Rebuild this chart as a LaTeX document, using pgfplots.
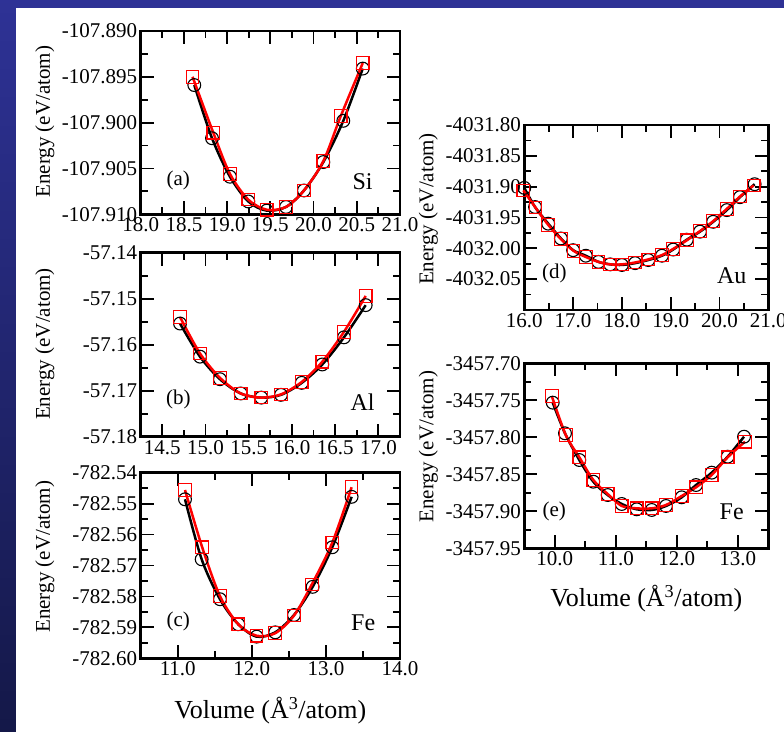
\documentclass[border=0pt]{standalone}
\usepackage{fontspec}
\setmainfont{Liberation Serif}
\usepackage{pgfplots}
\pgfplotsset{compat=1.18}
\usepackage{pgfplotstable}

\definecolor{slidetop}{RGB}{46,50,150}
\definecolor{slidebot}{RGB}{20,24,72}

% Si (a)
\pgfplotstableread{
V E
18.620 -107.8959
18.825 -107.9017
19.033 -107.9059
19.245 -107.9086
19.458 -107.9096
19.681 -107.9092
19.889 -107.9074
20.113 -107.9043
20.344 -107.8998
20.569 -107.8941
}\SiA
\pgfplotstableread{
V E
18.600 -107.8950
18.840 -107.9011
19.033 -107.9056
19.245 -107.9084
19.458 -107.9095
19.681 -107.9092
19.889 -107.9074
20.113 -107.9042
20.314 -107.8993
20.569 -107.8935
}\SiB
% Al (b)
\pgfplotstableread{
V E
14.705 -57.1554
14.936 -57.1626
15.167 -57.1675
15.407 -57.1706
15.645 -57.1715
15.873 -57.1709
16.113 -57.1683
16.351 -57.1643
16.602 -57.1584
16.853 -57.1514
}\AlA
\pgfplotstableread{
V E
14.705 -57.1540
14.936 -57.1619
15.167 -57.1672
15.407 -57.1706
15.645 -57.1715
15.873 -57.1708
16.113 -57.1681
16.351 -57.1637
16.602 -57.1572
16.853 -57.1494
}\AlB
% Fe (c)
\pgfplotstableread{
V E
11.098 -782.5486
11.323 -782.5680
11.570 -782.5809
11.817 -782.5890
12.065 -782.5930
12.316 -782.5916
12.569 -782.5860
12.821 -782.5769
13.086 -782.5641
13.347 -782.5478
}\FeA
\pgfplotstableread{
V E
11.098 -782.5456
11.330 -782.5641
11.570 -782.5799
11.817 -782.5890
12.065 -782.5927
12.316 -782.5919
12.569 -782.5862
12.810 -782.5761
13.086 -782.5626
13.347 -782.5447
}\FeB
% Au (d)
\pgfplotstableread{
V E
16.00 -4031.902
16.22 -4031.933
16.49 -4031.960
16.75 -4031.984
17.00 -4032.003
17.26 -4032.012
17.52 -4032.022
17.76 -4032.026
18.00 -4032.027
18.27 -4032.024
18.54 -4032.019
18.82 -4032.012
19.05 -4032.002
19.33 -4031.986
19.60 -4031.973
19.87 -4031.957
20.15 -4031.938
20.42 -4031.917
20.72 -4031.896
}\AuA
\pgfplotstableread{
V E
15.98 -4031.906
16.23 -4031.934
16.49 -4031.962
16.75 -4031.985
17.01 -4032.004
17.26 -4032.014
17.52 -4032.022
17.76 -4032.026
18.00 -4032.026
18.27 -4032.023
18.54 -4032.018
18.82 -4032.011
19.05 -4032.001
19.33 -4031.987
19.60 -4031.972
19.87 -4031.956
20.15 -4031.936
20.42 -4031.916
20.70 -4031.898
}\AuB
% Fe (e)
\pgfplotstableread{
V E
9.966 -3457.7532
10.167 -3457.7946
10.402 -3457.8307
10.631 -3457.8600
10.867 -3457.8780
11.097 -3457.8901
11.343 -3457.8973
11.589 -3457.8982
11.823 -3457.8928
12.080 -3457.8811
12.315 -3457.8645
12.572 -3457.8478
12.834 -3457.8262
13.102 -3457.7992
}\FeeA
\pgfplotstableread{
V E
9.950 -3457.7442
10.180 -3457.7969
10.402 -3457.8270
10.631 -3457.8577
10.867 -3457.8766
11.097 -3457.8928
11.343 -3457.8960
11.589 -3457.8960
11.823 -3457.8915
12.080 -3457.8793
12.315 -3457.8676
12.572 -3457.8509
12.834 -3457.8270
13.118 -3457.8059
}\FeeB

\pgfplotsset{
  panel/.style={
    scale only axis, clip=false,
    axis line style={line width=2.6pt},
    tick style={line width=1.8pt, black},
    major tick length=13pt, minor tick length=7pt,
    tick align=inside,
    minor x tick num=1, minor y tick num=1,
    tick label style={font=\rmfamily\fontsize{21}{25}\selectfont},
    ylabel={Energy (eV/atom)},
    ylabel style={font=\rmfamily\fontsize{21}{25}\selectfont, anchor=center},
    xlabel style={font=\rmfamily\fontsize{26}{30}\selectfont, anchor=center},
    scaled ticks=false,
    x tick label style={/pgf/number format/.cd, fixed, fixed zerofill, precision=1, assume math mode=true},
  },
  dft/.style={only marks, mark=o, mark size=6.4pt, black, mark options={line width=1.1pt}},
  mdl/.style={only marks, mark=square, mark size=6.3pt, red, mark options={line width=1.1pt}},
  fitk/.style={black, line width=2.5pt, smooth},
  fitr/.style={red, line width=2.5pt, smooth},
}
\newcommand{\lab}[3]{\node[font=\rmfamily\fontsize{21}{25}\selectfont] at (axis description cs:#1,#2) {#3};}
\newcommand{\elem}[3]{\node[font=\rmfamily\fontsize{24}{28}\selectfont] at (axis description cs:#1,#2) {#3};}

\begin{document}
\begin{tikzpicture}
\useasboundingbox (0,0) rectangle (784pt,731pt);
\shade[top color=slidetop, bottom color=slidebot] (-2pt,-2pt) rectangle (786pt,733pt);
\fill[white] (16pt,-4pt) rectangle (788pt,723pt);
\clip (0,0) rectangle (784pt,731pt);

% (a) Si
\begin{axis}[panel, at={(140.7pt,516.7pt)}, anchor=south west,
  width=259.3pt, height=183.3pt,
  xmin=18, xmax=21, xtick={18,18.5,...,21},
  ymin=-107.91, ymax=-107.89,
  ytick={-107.91,-107.905,-107.9,-107.895,-107.89},
  yticklabels={-107.910,-107.905,-107.900,-107.895,-107.890},
  ylabel style={at={(axis description cs:-0.370,0.505)}}]
  \addplot[dft] table {\SiA};
  \addplot[mdl] table {\SiB};
  \addplot[fitk] table {\SiA};
  \addplot[fitr] table {\SiB};
  \lab{0.145}{0.187}{(a)}
  \elem{0.856}{0.178}{Si}
\end{axis}

% (b) Al
\begin{axis}[panel, at={(140.7pt,294.3pt)}, anchor=south west,
  width=259.3pt, height=184pt,
  xmin=14.25, xmax=17.25, xtick={14.5,15,...,17},
  ymin=-57.18, ymax=-57.14,
  ytick={-57.18,-57.17,-57.16,-57.15,-57.14},
  yticklabels={-57.18,-57.17,-57.16,-57.15,-57.14},
  ylabel style={at={(axis description cs:-0.370,0.504)}}]
  \addplot[dft] table {\AlA};
  \addplot[mdl] table {\AlB};
  \addplot[fitk] table {\AlA};
  \addplot[fitr] table {\AlB};
  \lab{0.145}{0.200}{(b)}
  \elem{0.856}{0.190}{Al}
\end{axis}

% (c) Fe
\begin{axis}[panel, at={(140.7pt,72.7pt)}, anchor=south west,
  width=259.3pt, height=185.6pt,
  xmin=10.5, xmax=14, xtick={11,12,13,14},
  ymin=-782.60, ymax=-782.54,
  ytick={-782.60,-782.59,-782.58,-782.57,-782.56,-782.55,-782.54},
  yticklabels={-782.60,-782.59,-782.58,-782.57,-782.56,-782.55,-782.54},
  ylabel style={at={(axis description cs:-0.370,0.547)}},
  xlabel={Volume (Å\textsuperscript{3}/atom)},
  xlabel style={at={(axis description cs:0.5,-0.284)}}]
  \addplot[dft] table {\FeA};
  \addplot[mdl] table {\FeB};
  \addplot[fitk] table {\FeA};
  \addplot[fitr] table {\FeB};
  \lab{0.145}{0.197}{(c)}
  \elem{0.858}{0.189}{Fe}
\end{axis}

% (d) Au
\begin{axis}[panel, at={(524.3pt,421pt)}, anchor=south west,
  width=244pt, height=185pt,
  xmin=16, xmax=21, xtick={16,17,...,21},
  ymin=-4032.10, ymax=-4031.80,
  ytick={-4032.10,-4032.05,-4032.00,-4031.95,-4031.90,-4031.85,-4031.80},
  yticklabels={,-4032.05,-4032.00,-4031.95,-4031.90,-4031.85,-4031.80},
  ylabel style={at={(axis description cs:-0.393,0.546)}}]
  \addplot[dft] table {\AuA};
  \addplot[mdl] table {\AuB};
  \addplot[fitk] table {\AuA};
  \addplot[fitr] table {\AuB};
  \lab{0.123}{0.195}{(d)}
  \elem{0.850}{0.185}{Au}
\end{axis}

% (e) Fe
\begin{axis}[panel, at={(524.3pt,182.7pt)}, anchor=south west,
  width=244pt, height=185pt,
  xmin=9.5, xmax=13.5, xtick={10,11,12,13},
  ymin=-3457.95, ymax=-3457.70,
  ytick={-3457.95,-3457.90,-3457.85,-3457.80,-3457.75,-3457.70},
  yticklabels={-3457.95,-3457.90,-3457.85,-3457.80,-3457.75,-3457.70},
  ylabel style={at={(axis description cs:-0.393,0.549)}},
  xlabel={Volume (Å\textsuperscript{3}/atom)},
  xlabel style={at={(axis description cs:0.5,-0.274)}}]
  \addplot[dft] table {\FeeA};
  \addplot[mdl] table {\FeeB};
  \addplot[fitk] table {\FeeA};
  \addplot[fitr] table {\FeeB};
  \lab{0.123}{0.198}{(e)}
  \elem{0.850}{0.198}{Fe}
\end{axis}
\end{tikzpicture}
\end{document}
